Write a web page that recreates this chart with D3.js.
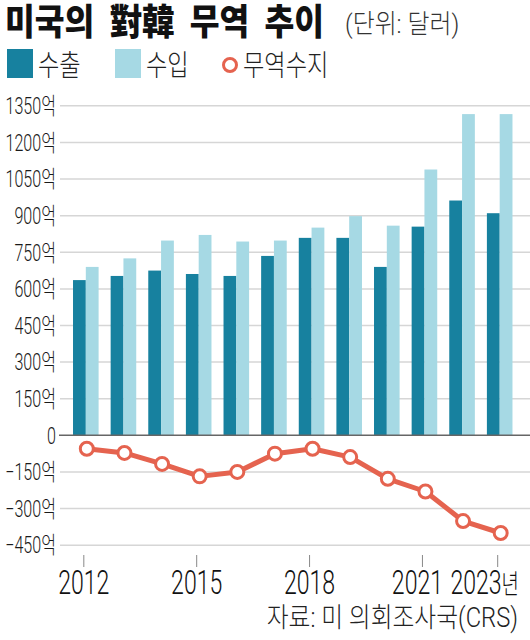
<!DOCTYPE html>
<html>
<head>
<meta charset="utf-8">
<script src="https://cdn.jsdelivr.net/npm/d3@7"></script>
<style>
  html, body { margin: 0; padding: 0; background: #fff; }
  svg { display: block; }
  text { font-family: "Roboto", "Liberation Sans", "Noto Sans CJK KR", sans-serif; }
</style>
</head>
<body>
<div id="chart"></div>
<script>
// ---- data ----
const years = [2012, 2013, 2014, 2015, 2016, 2017, 2018, 2019, 2020, 2021, 2022, 2023];
const exportsUS = [636, 653, 675, 661, 653, 735, 809, 809, 690, 855, 962, 910];
const importsUS = [690, 725, 798, 821, 794, 798, 851, 898, 859, 1089, 1316, 1316];
const balance = [-55, -72, -117, -168, -150, -75, -55, -89, -178, -230, -351, -400];
const yTicks = [-450, -300, -150, 0, 150, 300, 450, 600, 750, 900, 1050, 1200, 1350];
const xTickYears = [2012, 2015, 2018, 2021, 2023];
const seriesNames = ["수출", "수입", "무역수지"];
const titleText = "미국의 對韓 무역 추이";
const unitText = "(단위: 달러)";
const sourceText = "자료: 미 의회조사국(CRS)";

// ---- style ----
const W = 530, H = 640;
const cDark = "#17819f", cLight = "#a6d9e4", cRed = "#e5634f";

const svg = d3.select("#chart").append("svg").attr("width", W).attr("height", H);

const x = d3.scaleBand().domain(years).range([68, 519.5]).paddingInner(0.32).paddingOuter(0.16);
const xs = d3.scaleBand().domain(["exp", "imp"]).range([0, x.bandwidth()]);
const y = d3.scaleLinear().domain([-450, 1350]).range([545.2, 105.8]);

// gridlines
svg.append("g").selectAll("line").data(yTicks.filter(d => d !== 0)).join("line")
  .attr("x1", 60).attr("x2", W).attr("y1", d => y(d)).attr("y2", d => y(d))
  .attr("stroke", "#d6d6d6").attr("stroke-width", 1.5);

// y labels
const yl = svg.append("g").selectAll("text").data(yTicks).join("text")
  .attr("transform", d => `translate(56,${y(d)}) scale(0.7,1)`)
  .attr("text-anchor", "end").attr("dy", "0.36em")
  .attr("font-size", 23).attr("font-weight", 300).attr("fill", "#1a1a1a")
  .text(d => d === 0 ? "0" : (d < 0 ? "\u2212" + Math.abs(d) : d) + "억");

// bars
const g = svg.append("g").attr("transform", "translate(-1,0)");
const grp = g.selectAll("g").data(years).join("g").attr("transform", d => `translate(${x(d)},0)`);
grp.append("rect").attr("x", xs("exp")).attr("width", xs.bandwidth())
  .attr("y", (d, i) => y(exportsUS[i])).attr("height", (d, i) => y(0) - y(exportsUS[i]))
  .attr("fill", cDark);
grp.append("rect").attr("x", xs("imp")).attr("width", xs.bandwidth())
  .attr("y", (d, i) => y(importsUS[i])).attr("height", (d, i) => y(0) - y(importsUS[i]))
  .attr("fill", cLight);

// zero axis
svg.append("line").attr("x1", 59).attr("x2", W).attr("y1", y(0)).attr("y2", y(0))
  .attr("stroke", "#666").attr("stroke-width", 1.5);

// balance line
const cx = d => x(d) + x.bandwidth() / 2;
const line = d3.line().x((d, i) => cx(years[i])).y(d => y(d));
svg.append("path").datum(balance).attr("d", line)
  .attr("fill", "none").attr("stroke", cRed).attr("stroke-width", 5).attr("stroke-linejoin", "round");
svg.append("g").selectAll("circle").data(balance).join("circle")
  .attr("cx", (d, i) => cx(years[i])).attr("cy", d => y(d)).attr("r", 6.5)
  .attr("fill", "#fff").attr("stroke", cRed).attr("stroke-width", 3);

// x ticks
svg.append("g").selectAll("line").data(xTickYears).join("line")
  .attr("x1", d => cx(d) - 3).attr("x2", d => cx(d) - 3).attr("y1", 555).attr("y2", 567)
  .attr("stroke", "#888").attr("stroke-width", 1);
const xl = svg.append("g").selectAll("text").data(xTickYears).join("text")
  .attr("transform", (d, i) => {
    const last = i === xTickYears.length - 1;
    const px = last ? 519 : cx(d) - 3 - (d === 2021 ? 5 : 0);
    return `translate(${px},594) scale(0.7,1)`;
  })
  .attr("text-anchor", (d, i) => i === xTickYears.length - 1 ? "end" : "middle")
  .attr("font-size", 33).attr("font-weight", 300).attr("fill", "#111");
xl.append("tspan").text(d => d);
xl.filter((d, i) => i === xTickYears.length - 1).append("tspan")
  .attr("font-family", "Noto Sans CJK KR").attr("font-size", 27).text("년");

// title
svg.append("text").attr("transform", "translate(5,35) scale(0.9,1)")
  .attr("font-family", "Noto Sans CJK KR").attr("font-weight", 900)
  .attr("font-size", 36).attr("word-spacing", 8).attr("fill", "#111").text(titleText);
svg.append("text").attr("transform", "translate(345,33) scale(0.92,1)")
  .attr("font-family", "Noto Sans CJK KR").attr("font-weight", 300)
  .attr("font-size", 26).attr("fill", "#333").text(unitText);

// legend
const lg = svg.append("g");
lg.append("rect").attr("x", 7).attr("y", 49).attr("width", 26).attr("height", 29).attr("fill", cDark);
lg.append("rect").attr("x", 115).attr("y", 49).attr("width", 26).attr("height", 29).attr("fill", cLight);
lg.append("circle").attr("cx", 230).attr("cy", 65).attr("r", 6.5).attr("fill", "#fff")
  .attr("stroke", cRed).attr("stroke-width", 3);
const legX = [38, 146, 243];
lg.selectAll("text").data(seriesNames).join("text")
  .attr("transform", (d, i) => `translate(${legX[i]},76) scale(0.8,1)`)
  .attr("font-family", "Noto Sans CJK KR").attr("font-weight", 300)
  .attr("font-size", 29).attr("fill", "#222").text(d => d);

// source
svg.append("text").attr("transform", "translate(518,627) scale(0.88,1)")
  .attr("text-anchor", "end").attr("font-family", "Noto Sans CJK KR").attr("font-weight", 300)
  .attr("font-size", 27).attr("fill", "#222").text(sourceText);
</script>
</body>
</html>
